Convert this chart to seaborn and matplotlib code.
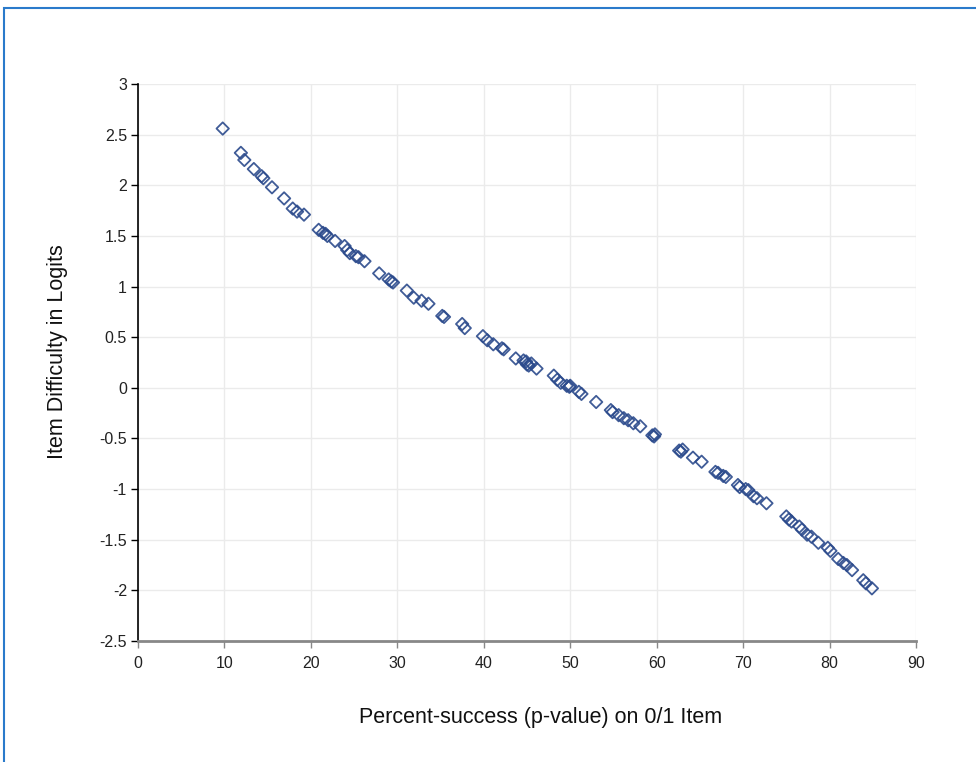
import matplotlib
matplotlib.use("Agg")
import matplotlib.pyplot as plt
import seaborn as sns
import pandas as pd
from matplotlib.patches import Rectangle

# ---- data ----
pct_success = [
    9.8, 11.9, 12.3, 13.4, 14.3, 14.5, 15.5, 16.9, 17.9, 18.4, 19.2,
    20.9, 21.4, 21.7, 21.9, 22.8, 23.9, 24.2, 24.5, 25.2, 25.5, 26.2,
    27.9, 29.0, 29.3, 29.5, 31.1, 31.9, 32.8, 33.6, 35.2, 35.4, 37.5, 37.8,
    39.9, 40.4, 41.1, 42.1, 42.3, 43.7, 44.6, 44.9, 45.0, 45.2, 45.5, 46.1,
    48.1, 48.5, 48.9, 49.6, 49.9, 50.0, 51.0, 51.3, 53.0,
    54.7, 54.9, 55.6, 56.2, 56.7, 57.3, 58.1, 59.5, 59.7, 59.8,
    62.6, 62.8, 63.0, 64.2, 65.2, 66.8, 67.1, 67.7, 68.0,
    69.4, 69.6, 70.3, 70.6, 71.2, 71.6, 72.7,
    75.0, 75.3, 75.6, 76.5, 76.8, 77.4, 77.9, 78.7, 79.8, 80.1,
    81.0, 81.6, 82.0, 82.6, 83.9, 84.2, 84.9,
]
difficulty = [
    2.56, 2.32, 2.25, 2.16, 2.09, 2.07, 1.98, 1.87, 1.77, 1.74, 1.71,
    1.56, 1.53, 1.52, 1.50, 1.45, 1.40, 1.36, 1.33, 1.30, 1.29, 1.25,
    1.13, 1.07, 1.05, 1.04, 0.96, 0.89, 0.86, 0.83, 0.71, 0.70, 0.63, 0.59,
    0.51, 0.47, 0.43, 0.39, 0.38, 0.29, 0.27, 0.26, 0.23, 0.22, 0.24, 0.19,
    0.12, 0.08, 0.05, 0.02, 0.01, 0.02, -0.04, -0.06, -0.14,
    -0.22, -0.24, -0.27, -0.30, -0.32, -0.35, -0.38, -0.47, -0.48, -0.46,
    -0.62, -0.63, -0.61, -0.69, -0.73, -0.83, -0.84, -0.87, -0.88,
    -0.96, -0.98, -1.00, -1.01, -1.07, -1.09, -1.14,
    -1.27, -1.30, -1.32, -1.37, -1.40, -1.45, -1.47, -1.53, -1.58, -1.61,
    -1.69, -1.73, -1.75, -1.80, -1.90, -1.93, -1.98,
]
x_ticks = [0, 10, 20, 30, 40, 50, 60, 70, 80, 90]
y_ticks = [3, 2.5, 2, 1.5, 1, 0.5, 0, -0.5, -1, -1.5, -2, -2.5]
y_tick_labels = ["3", "2.5", "2", "1.5", "1", "0.5", "0", "-0.5", "-1", "-1.5", "-2", "-2.5"]
x_label = "Percent-success (p-value) on 0/1 Item"
y_label = "Item Difficulty in Logits"

df = pd.DataFrame({"p": pct_success, "d": difficulty})

sns.set_theme(style="white")
plt.rcParams["font.family"] = ["Liberation Sans", "DejaVu Sans"]
plt.rcParams["axes.unicode_minus"] = False

fig = plt.figure(figsize=(9.76, 7.62), dpi=100)
ax = fig.add_axes([138 / 976, 1 - 641 / 762, (916 - 138) / 976, (641 - 84) / 762])

sns.scatterplot(data=df, x="p", y="d", ax=ax, marker="D", s=40,
                facecolor="none", edgecolor="#2B4A8C", linewidth=1.3,
                alpha=0.9, zorder=3)

ax.set_xlim(0, 90)
ax.set_ylim(-2.5, 3)
ax.set_xticks(x_ticks)
ax.set_xticklabels([str(t) for t in x_ticks], fontsize=11.5)
ax.set_yticks(y_ticks)
ax.set_yticklabels(y_tick_labels, fontsize=11.5)
ax.grid(True, color="#EBEBEB", linewidth=1)
ax.set_axisbelow(True)

for s in ["top", "right"]:
    ax.spines[s].set_visible(False)
ax.spines["left"].set_color("black")
ax.spines["left"].set_linewidth(1.2)
ax.spines["bottom"].set_color("#888888")
ax.spines["bottom"].set_linewidth(2)

ax.tick_params(axis="y", which="major", left=True, direction="out", length=5,
               width=1, color="black", pad=3, labelcolor="#222222")
ax.tick_params(axis="x", which="major", bottom=True, direction="out", length=5,
               width=1, color="#888888", pad=6, labelcolor="#222222")

ax.set_xlabel(x_label, fontsize=15.5, color="#111111", va="center")
ax.xaxis.set_label_coords(0.518, -0.138)
ax.set_ylabel(y_label, fontsize=15.5, color="#111111", va="center")
ax.yaxis.set_label_coords(-0.104, 0.52)

# outer blue frame (clipped at the right and bottom edges)
fig.patches.append(Rectangle((4 / 976, -0.05), 1.1, 1 - 8 / 762 + 0.05,
                             transform=fig.transFigure, fill=False,
                             edgecolor="#2A7ACB", linewidth=1.5, zorder=0))

fig.savefig("out.png", dpi=100)
